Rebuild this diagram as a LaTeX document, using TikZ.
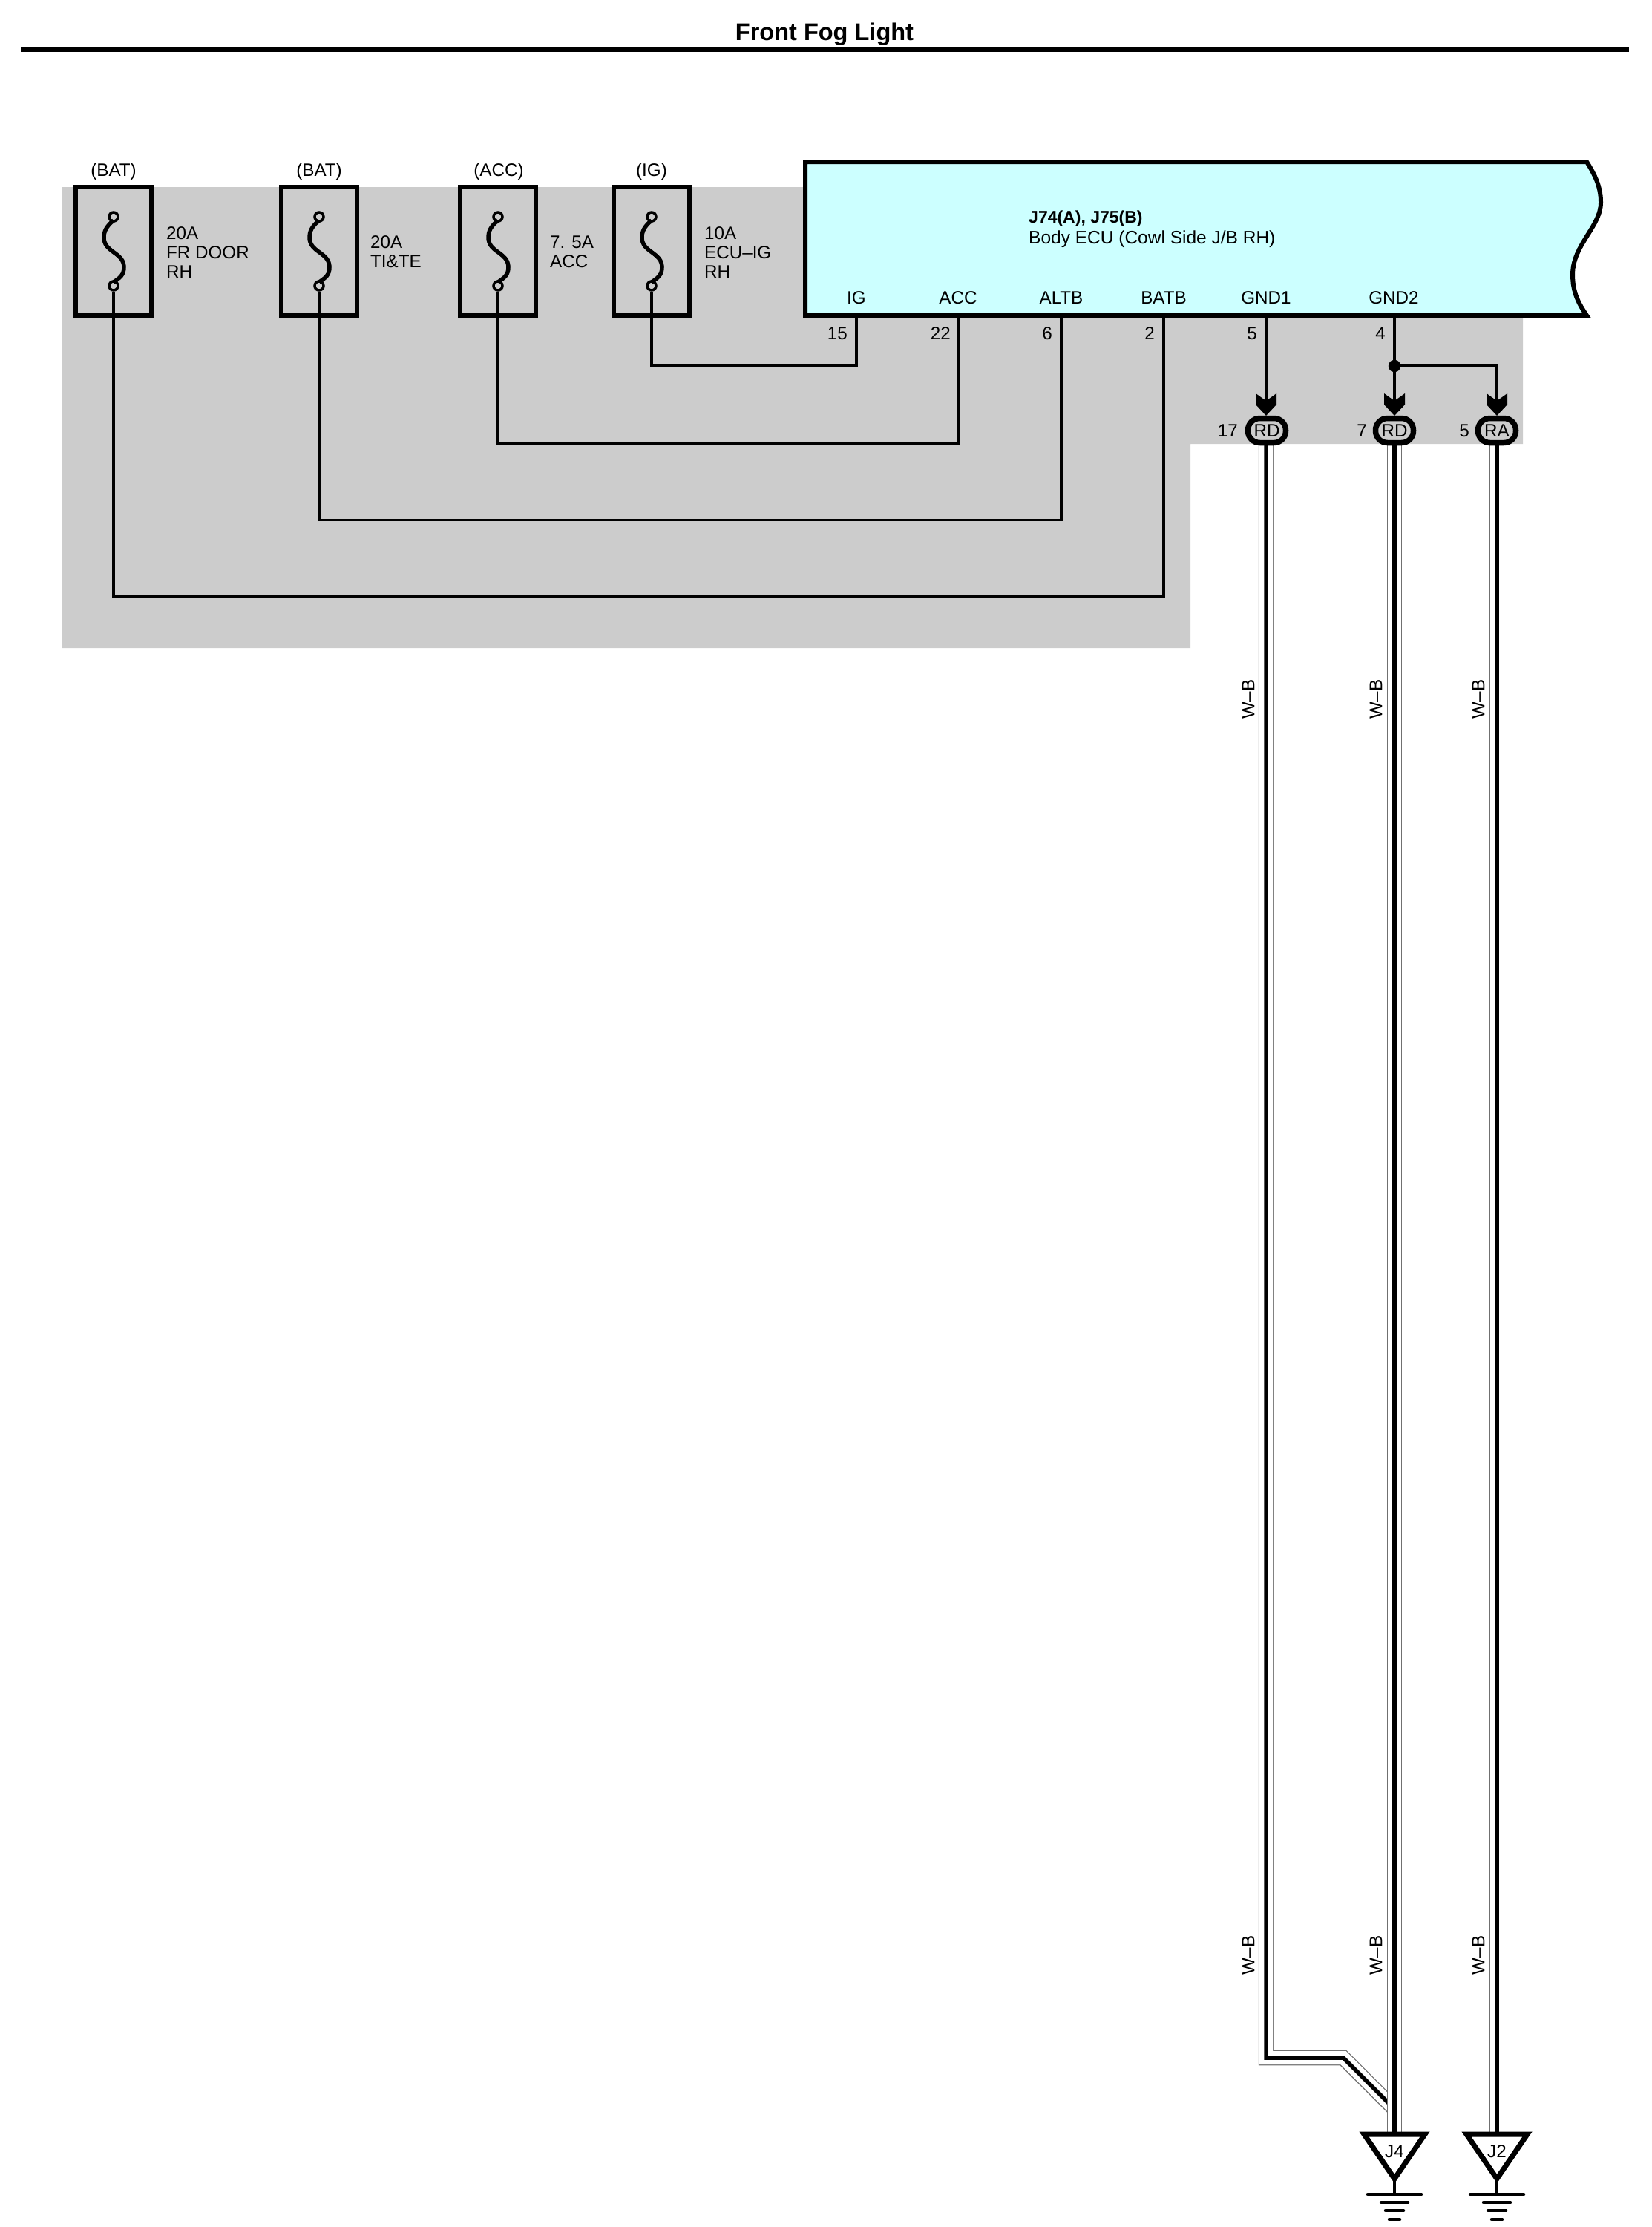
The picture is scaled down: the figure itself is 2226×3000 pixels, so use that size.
\documentclass[tikz,border=0pt]{standalone}
\usepackage{fontspec}
\setmainfont{Liberation Sans}
\usetikzlibrary{positioning}
\pgfdeclarelayer{edgelayer}
\pgfdeclarelayer{nodelayer}
\pgfsetlayers{edgelayer,nodelayer,main}
\definecolor{ecucyan}{HTML}{CCFFFF}
\definecolor{panelgray}{HTML}{CCCCCC}
\definecolor{sleeve}{HTML}{707070}
\tikzstyle{none}=[inner sep=0pt]
\tikzstyle{txt}=[inner sep=0pt, font=\fontsize{24.2}{26}\selectfont]
\tikzstyle{fusebox}=[draw, line width=6pt, minimum width=102pt, minimum height=173pt, inner sep=0pt]
\tikzstyle{fusepin}=[draw, circle, line width=3.5pt, minimum size=12pt, inner sep=0pt]
\tikzstyle{plug}=[draw, line width=7.5pt, rounded corners=16pt, minimum width=51pt, minimum height=33pt, inner sep=0pt, font=\fontsize{24.2}{26}\selectfont]
\tikzstyle{wire}=[line width=3.8pt, line join=miter]
\tikzstyle{harness}=[preaction={draw, sleeve, line width=20.5pt}, preaction={draw, white, line width=18pt}, draw, black, line width=5.5pt]
\tikzset{
	fusecurve/.pic={
		\draw [line width=5.5pt] (0,-41.5) .. controls (-10,-33.5) and (-13,-26.5) .. (-13,-18.5)
			.. controls (-13,1.5) and (14,1.5) .. (14,21.5)
			.. controls (14,31.5) and (9,35.5) .. (0,41.5);
	},
	chevron/.pic={
		\fill (0,0) -- (-14,-15) -- (-14,-30) -- (0,-20) -- (14,-30) -- (14,-15) -- cycle;
	},
	earth/.pic={
		\draw [line width=7pt, line join=miter] (-41,0) -- (41,0) -- (0,60) -- cycle;
		\draw [line width=4.5pt] (0,60) -- (0,81);
		\draw [line width=4.5pt, line cap=round] (-36,81) -- (36,81);
		\draw [line width=4.5pt, line cap=round] (-18,92) -- (18,92);
		\draw [line width=4.5pt, line cap=round] (-12,103) -- (12,103);
		\draw [line width=4.5pt, line cap=round] (-7,115) -- (7,115);
	}
}
\begin{document}
\begin{tikzpicture}[x=1pt, y=-1pt]
	\useasboundingbox (0,0) rectangle (2226,3000);
	\begin{pgfonlayer}{nodelayer}
		\node [style=none, anchor=base, font=\bfseries\fontsize{32.5}{36}\selectfont] (title) at (1111, 55) {Front Fog Light};
		\node [style=none] (ruleL) at (28, 66.5) {};
		\node [style=none] (ruleR) at (2195, 66.5) {};

		\node [style=txt, anchor=base] (supA) at (153, 237) {(BAT)};
		\node [style=txt, anchor=base] (supB) at (430, 237) {(BAT)};
		\node [style=txt, anchor=base] (supC) at (672, 237) {(ACC)};
		\node [style=txt, anchor=base] (supD) at (878, 237) {(IG)};

		\node [style=fusebox] (fuseA) at (153, 338.5) {};
		\node [style=fusebox] (fuseB) at (430, 338.5) {};
		\node [style=fusebox] (fuseC) at (671, 338.5) {};
		\node [style=fusebox] (fuseD) at (878, 338.5) {};
		\pic at (fuseA) {fusecurve};
		\pic at (fuseB) {fusecurve};
		\pic at (fuseC) {fusecurve};
		\pic at (fuseD) {fusecurve};
		\node [style=fusepin] (topA) at (153, 292) {};
		\node [style=fusepin] (topB) at (430, 292) {};
		\node [style=fusepin] (topC) at (671, 292) {};
		\node [style=fusepin] (topD) at (878, 292) {};
		\node [style=fusepin] (botA) at (153, 385) {};
		\node [style=fusepin] (botB) at (430, 385) {};
		\node [style=fusepin] (botC) at (671, 385) {};
		\node [style=fusepin] (botD) at (878, 385) {};

		\node [style=txt, anchor=west, align=left] (ratA) at (224, 340) {20A\\FR DOOR\\RH};
		\node [style=txt, anchor=west, align=left] (ratB) at (499, 339) {20A\\TI\&TE};
		\node [style=txt, anchor=west, align=left] (ratC) at (741, 339) {7. 5A\\ACC};
		\node [style=txt, anchor=west, align=left] (ratD) at (949, 340) {10A\\ECU--IG\\RH};

		\node [style=txt, anchor=base west, font=\bfseries\fontsize{23}{26}\selectfont] (ecuid) at (1386, 300) {J74(A), J75(B)};
		\node [style=txt, anchor=base west, font=\fontsize{24.5}{26}\selectfont] (ecuname) at (1386, 328) {Body ECU (Cowl Side J/B RH)};

		\node [style=txt, anchor=base] (nameIG) at (1154, 409) {IG};
		\node [style=txt, anchor=base] (nameACC) at (1291, 409) {ACC};
		\node [style=txt, anchor=base] (nameALTB) at (1430, 409) {ALTB};
		\node [style=txt, anchor=base] (nameBATB) at (1568, 409) {BATB};
		\node [style=txt, anchor=base] (nameGNDa) at (1706, 409) {GND1};
		\node [style=txt, anchor=base] (nameGNDb) at (1878, 409) {GND2};

		\node [style=txt, anchor=base east] (noIG) at (1142, 457) {15};
		\node [style=txt, anchor=base east] (noACC) at (1281, 457) {22};
		\node [style=txt, anchor=base east] (noALTB) at (1418, 457) {6};
		\node [style=txt, anchor=base east] (noBATB) at (1556, 457) {2};
		\node [style=txt, anchor=base east] (noGNDa) at (1694, 457) {5};
		\node [style=txt, anchor=base east] (noGNDb) at (1867, 457) {4};

		\node [style=none] (pinIG) at (1154, 425) {};
		\node [style=none] (pinACC) at (1291, 425) {};
		\node [style=none] (pinALTB) at (1430, 425) {};
		\node [style=none] (pinBATB) at (1568, 425) {};
		\node [style=none] (pinGNDa) at (1706, 425) {};
		\node [style=none] (pinGNDb) at (1879, 425) {};

		\node [style=none] (cornIGa) at (878, 493) {};
		\node [style=none] (cornIGb) at (1154, 493) {};
		\node [style=none] (cornACCa) at (671, 597) {};
		\node [style=none] (cornACCb) at (1291, 597) {};
		\node [style=none] (cornALTBa) at (430, 700.5) {};
		\node [style=none] (cornALTBb) at (1430, 700.5) {};
		\node [style=none] (cornBATBa) at (153, 804) {};
		\node [style=none] (cornBATBb) at (1568, 804) {};
		\node [style=none] (cornRA) at (2017, 493) {};
		\node [draw, fill, circle, minimum size=16pt, inner sep=0pt] (splice) at (1879, 493) {};

		\node [style=plug] (plugA) at (1707, 580) {RD};
		\node [style=plug] (plugB) at (1879, 580) {RD};
		\node [style=plug] (plugC) at (2017, 580) {RA};
		\pic at (1706, 560) {chevron};
		\pic at (1879, 560) {chevron};
		\pic at (2017, 560) {chevron};
		\node [style=txt, anchor=base east] (noPlugA) at (1668, 588) {17};
		\node [style=txt, anchor=base east] (noPlugB) at (1842, 588) {7};
		\node [style=txt, anchor=base east] (noPlugC) at (1980, 588) {5};

		\node [style=txt, rotate=90] (colA) at (1682, 942) {W--B};
		\node [style=txt, rotate=90] (colB) at (1854, 942) {W--B};
		\node [style=txt, rotate=90] (colC) at (1992, 942) {W--B};
		\node [style=txt, rotate=90] (colD) at (1682, 2634) {W--B};
		\node [style=txt, rotate=90] (colE) at (1854, 2634) {W--B};
		\node [style=txt, rotate=90] (colF) at (1992, 2634) {W--B};

		\node [style=none] (bendA) at (1706, 2772) {};
		\node [style=none] (bendB) at (1810, 2772) {};
		\node [style=none] (joinJ) at (1876, 2838) {};
		\node [style=none] (topJa) at (1879, 2875) {};
		\node [style=none] (topJb) at (2017, 2875) {};
		\pic at (topJa) {earth};
		\pic at (topJb) {earth};
		\node [style=txt, anchor=base] (gndA) at (1879, 2906) {J4};
		\node [style=txt, anchor=base] (gndB) at (2017, 2906) {J2};
	\end{pgfonlayer}
	\begin{pgfonlayer}{edgelayer}
		\fill [panelgray] (84, 252) -- (1085, 252) -- (1085, 425) -- (2052, 425) -- (2052, 598) -- (1604, 598) -- (1604, 873) -- (84, 873) -- cycle;
		\draw [line width=6pt, fill=ecucyan] (1085, 218) -- (2138, 218) .. controls (2152, 240) and (2157, 255) .. (2157, 273)
			.. controls (2157, 305) and (2119, 330) .. (2119, 370)
			.. controls (2119, 395) and (2128, 410) .. (2138, 425) -- (1085, 425) -- cycle;
		\draw [line width=7pt] (ruleL.center) to (ruleR.center);

		\draw [style=wire] (botD.south) to (cornIGa.center) to (cornIGb.center) to (pinIG.center);
		\draw [style=wire] (botC.south) to (cornACCa.center) to (cornACCb.center) to (pinACC.center);
		\draw [style=wire] (botB.south) to (cornALTBa.center) to (cornALTBb.center) to (pinALTB.center);
		\draw [style=wire] (botA.south) to (cornBATBa.center) to (cornBATBb.center) to (pinBATB.center);
		\draw [style=wire] (pinGNDa.center) to (1706, 550);
		\draw [style=wire] (pinGNDb.center) to (splice.center) to (1879, 550);
		\draw [style=wire] (splice.center) to (cornRA.center) to (2017, 550);

		\draw [style=harness] (1706, 598) to (bendA.center) to (bendB.center) to (joinJ.center);
		\draw [style=harness] (plugB.south) to (topJa.center);
		\draw [style=harness] (plugC.south) to (topJb.center);
	\end{pgfonlayer}
\end{tikzpicture}
\end{document}
